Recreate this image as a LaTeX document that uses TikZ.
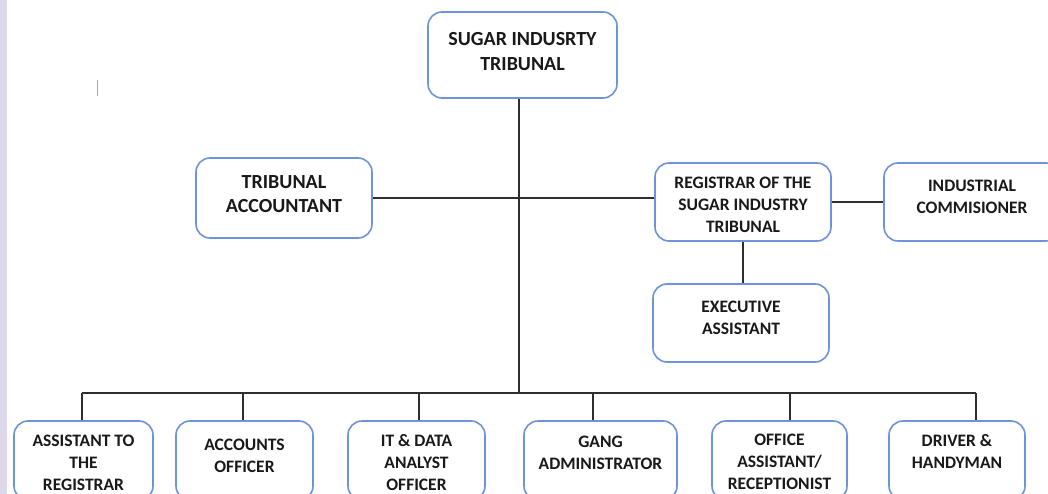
\documentclass[tikz,border=0pt]{standalone}
\usepackage{fontspec}
\setmainfont{Carlito}
\definecolor{boxline}{HTML}{6F93D9}
\definecolor{conn}{HTML}{2E2E2E}
\definecolor{strip}{HTML}{DDD7EA}
\newcommand{\boxtext}[2]{\raisebox{#1pt}[\height][\depth]{\begin{tabular}{@{}c@{}}#2\end{tabular}}}
\begin{document}
\begin{tikzpicture}[x=1pt,y=-1pt,
  box/.style={draw=boxline,line width=1.6pt,rounded corners=14pt,fill=white,
    align=center,inner sep=0pt,font=\bfseries\fontsize{17.5}{22}\selectfont,text=black!90},
  bigbox/.style={box,font=\bfseries\fontsize{20}{24.5}\selectfont},
  link/.style={draw=conn,line width=1.5pt}]
\useasboundingbox (0,0) rectangle (1048,494);
\clip (0,0) rectangle (1048,494);
\fill[white] (0,0) rectangle (1048,494);
\fill[strip] (0,0) rectangle (7,494);
\draw[gray!70,line width=1pt] (97,80) -- (97,96);
% top
\node[bigbox,minimum width=189pt,minimum height=86pt] (top) at (522.5,55) {\boxtext{2}{SUGAR INDUSRTY\\TRIBUNAL}};
\node[bigbox,minimum width=176pt,minimum height=80pt] (acc) at (284,198) {\boxtext{2.5}{TRIBUNAL\\ACCOUNTANT}};
\node[box,minimum width=176pt,minimum height=78pt] (reg) at (743,202) {\boxtext{-4.5}{REGISTRAR OF THE\\SUGAR INDUSTRY\\TRIBUNAL}};
\node[box,minimum width=176pt,minimum height=78pt] (ind) at (972,202) {\boxtext{3.5}{INDUSTRIAL\\COMMISIONER}};
\node[box,minimum width=176pt,minimum height=78pt] (exe) at (741,323) {\boxtext{3.5}{EXECUTIVE\\ASSISTANT}};
% bottom row
\node[box,minimum width=139pt,minimum height=79pt] (b1) at (83.5,460.5) {\boxtext{-4}{ASSISTANT TO\\THE\\REGISTRAR}};
\node[box,minimum width=137pt,minimum height=79pt] (b2) at (244.5,460.5) {\boxtext{3}{ACCOUNTS\\OFFICER}};
\node[box,minimum width=137pt,minimum height=79pt] (b3) at (416.5,460.5) {\boxtext{-3.5}{IT \& DATA\\ANALYST\\OFFICER}};
\node[box,minimum width=153pt,minimum height=79pt] (b4) at (600.5,460.5) {\boxtext{6}{GANG\\ADMINISTRATOR}};
\node[box,minimum width=135pt,minimum height=79pt] (b5) at (779.5,460.5) {\boxtext{-3}{OFFICE\\ASSISTANT/\\RECEPTIONIST}};
\node[box,minimum width=136pt,minimum height=79pt] (b6) at (957,460.5) {\boxtext{7}{DRIVER \&\\HANDYMAN}};
% connectors
\coordinate (bus) at (519,393);
\coordinate (d1) at (82,393);
\coordinate (d2) at (243,393);
\coordinate (d3) at (419,393);
\coordinate (d4) at (593,393);
\coordinate (d5) at (790,393);
\coordinate (d6) at (976,393);
\draw[link] (top.south -| bus) -- (bus);
\draw[link] (acc.east) -- (acc.east -| reg.west);
\draw[link] (reg.east) -- (ind.west);
\draw[link] (reg.south) -- (reg.south |- exe.north);
\draw[link] (d1) -- (d6);
\foreach \i in {1,...,6}{\draw[link] (d\i) -- (d\i |- b\i.north);}
\end{tikzpicture}
\end{document}
